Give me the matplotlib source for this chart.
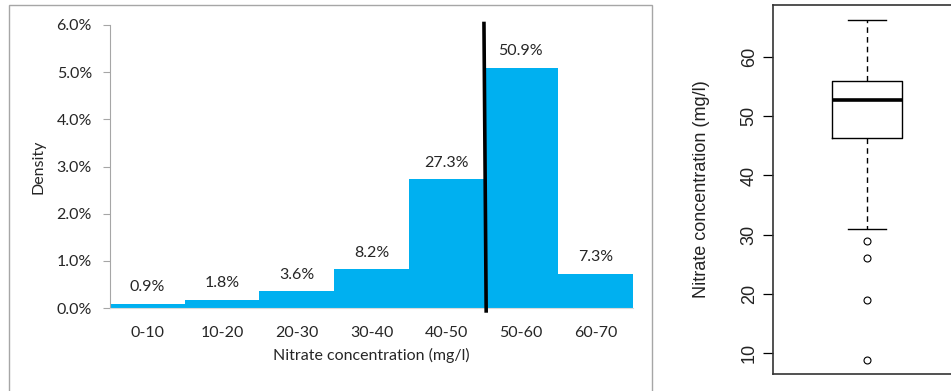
import matplotlib
matplotlib.use("Agg")
import matplotlib.pyplot as plt
from matplotlib.patches import Rectangle
import numpy as np

# ---- data ----
categories = ["0-10", "10-20", "20-30", "30-40", "40-50", "50-60", "60-70"]
bin_edges = [0, 10, 20, 30, 40, 50, 60, 70]
percent = [0.9, 1.8, 3.6, 8.2, 27.3, 50.9, 7.3]
threshold = 50.2  # vertical reference line (mg/l)

# boxplot summary (mg/l)
box_q1, box_med, box_q3 = 46.3, 52.7, 56.0
whisk_lo, whisk_hi = 31.0, 66.3
outliers = [29.0, 26.0, 19.0, 8.8]
y_ticks_box = [10, 20, 30, 40, 50, 60]

W, H = 951, 391
fig = plt.figure(figsize=(W / 100, H / 100), dpi=100)

# panel frame on the left
fig.patches.append(Rectangle((9 / W, -0.05), (652 - 9) / W, 1 - 5 / H + 0.05,
                             transform=fig.transFigure, fill=False,
                             edgecolor="#a6a6a6", linewidth=1.0))

left_font = "Lato"
fs = 11.5
bar_color = "#00B0F0"
txt_color = "#262626"

ax = fig.add_axes([110 / W, 1 - 308 / H, (633 - 110) / W, (308 - 25) / H])
widths = np.diff(bin_edges)
density = [p / w for p, w in zip(percent, widths)]
ax.bar(bin_edges[:-1], density, width=widths, align="edge", color=bar_color,
       edgecolor="none", zorder=2)
for x0, w, d, p in zip(bin_edges[:-1], widths, density, percent):
    ax.text(x0 + w / 2, d + 0.2, f"{p:.1f}%", ha="center", va="bottom",
            fontsize=fs, family=left_font, color=txt_color)
ax.set_xlim(0, 70)
ax.set_ylim(0, 6)
ax.set_yticks(np.arange(0, 6.01, 1.0))
ax.set_yticklabels([f"{v:.1f}%" for v in np.arange(0, 6.01, 1.0)],
                   family=left_font, fontsize=fs, color=txt_color)
ax.set_xticks([(a + b) / 2 for a, b in zip(bin_edges[:-1], bin_edges[1:])])
ax.set_xticklabels(categories, family=left_font, fontsize=fs, color=txt_color)
ax.tick_params(axis="x", length=0, pad=13)
ax.tick_params(axis="y", length=5, color="#a6a6a6", pad=8)
for s in ["top", "right"]:
    ax.spines[s].set_visible(False)
ax.spines["left"].set_color("#a6a6a6")
ax.spines["bottom"].set_color("#d9d9d9")
ax.set_xlabel("Nitrate concentration (mg/l)", family=left_font, fontsize=fs,
              color=txt_color, labelpad=6)
ax.set_ylabel("Density", family=left_font, fontsize=fs, color=txt_color,
              labelpad=8)
ax.plot([threshold - 0.15, threshold + 0.15], [6.07, -0.1], color="black",
        linewidth=2.6, clip_on=False, zorder=5, solid_capstyle="butt")

# ---- right boxplot ----
right_font = "Liberation Sans"
rfs = 13
axb = fig.add_axes([773 / W, 1 - 374 / H, (961 - 773) / W, (374 - 5) / H])
stats = [dict(med=box_med, q1=box_q1, q3=box_q3, whislo=whisk_lo,
              whishi=whisk_hi, fliers=outliers)]
axb.bxp(stats, positions=[1], widths=0.372, capwidths=0.197,
        boxprops=dict(color="black", linewidth=1.0),
        medianprops=dict(color="black", linewidth=2.6),
        whiskerprops=dict(color="black", linewidth=1.0, linestyle=(0, (4, 3))),
        capprops=dict(color="black", linewidth=1.0),
        flierprops=dict(marker="o", markerfacecolor="white",
                        markeredgecolor="black", markersize=5,
                        markeredgewidth=0.8))
axb.set_xlim(0.5, 1.5)
axb.set_ylim(6.45, 68.8)
axb.set_xticks([])
axb.set_yticks(y_ticks_box)
axb.set_yticklabels([str(v) for v in y_ticks_box], rotation=90, va="center",
                    family=right_font, fontsize=rfs, color="#222222")
axb.tick_params(axis="y", length=7, width=0.9, pad=4)
for s in axb.spines.values():
    s.set_linewidth(1.2)
    s.set_color("#333333")
axb.set_ylabel("Nitrate concentration (mg/l)", family=right_font,
               fontsize=rfs, color="#222222", labelpad=22)

fig.savefig("out.png", dpi=100)
